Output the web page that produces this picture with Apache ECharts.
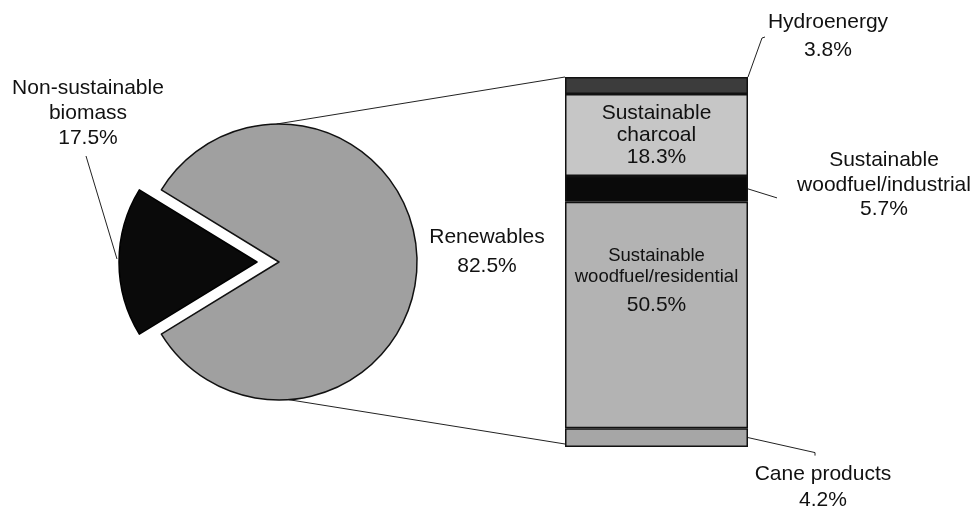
<!DOCTYPE html>
<html>
<head>
<meta charset="utf-8">
<script src="https://cdn.jsdelivr.net/npm/echarts@6/dist/echarts.min.js"></script>
<style>
html,body{margin:0;padding:0;background:#fff;}
#c{width:977px;height:511px;}
</style>
</head>
<body>
<div id="c"></div>
<script>
// ---- data ----
const pieNames = ['Non-sustainable biomass', 'Renewables'];
const pieValues = [17.5, 82.5];
const pieLabelLines = [['Non-sustainable', 'biomass', '17.5%'], ['Renewables', '82.5%']];

const barNames = ['Hydroenergy', 'Sustainable charcoal', 'Sustainable woodfuel/industrial', 'Sustainable woodfuel/residential', 'Cane products'];
const barValues = [3.8, 18.3, 5.7, 50.5, 4.2];
const barLabelLines = [
  ['Hydroenergy', '3.8%'],
  ['Sustainable', 'charcoal', '18.3%'],
  ['Sustainable', 'woodfuel/industrial', '5.7%'],
  ['Sustainable', 'woodfuel/residential', '50.5%'],
  ['Cane products', '4.2%']
];

// ---- styling / layout ----
const FONT = "'Liberation Sans', Arial, Helvetica, sans-serif";
const barColors = ['#3c3c3c', '#c6c6c6', '#0a0a0a', '#b3b3b3', '#a6a6a6'];
const pieColors = ['#0a0a0a', '#a0a0a0'];
const PIE = { cx: 279, cy: 262, r: 138, offset: 22 };
const GRID = { left: 565, width: 183, top: 77, height: 370 };
const total = barValues.reduce((a, b) => a + b, 0);

const chart = echarts.init(document.getElementById('c'), null, { renderer: 'canvas' });

const startAngle = 180 + pieValues[0] / (pieValues[0] + pieValues[1]) * 360 / 2;

const barSeries = barNames.map((name, i) => {
  const s = {
    name: name,
    type: 'bar',
    stack: 'total',
    barCategoryGap: '0%',
    data: [barValues[i]],
    itemStyle: { color: barColors[i], borderColor: '#111', borderWidth: 1.5 },
    emphasis: { disabled: true },
    label: { show: false }
  };
  if (i === 1) {
    s.label = {
      show: true, position: 'inside', fontFamily: FONT, fontSize: 21, lineHeight: 22,
      color: '#111', formatter: barLabelLines[i].join('\n')
    };
  }
  if (i === 3) {
    s.label = {
      show: true, position: ['50%', 44], align: 'center', verticalAlign: 'top',
      fontFamily: FONT, color: '#111',
      formatter: '{a|' + barLabelLines[i][0] + '}\n{a|' + barLabelLines[i][1] + '}\n{b|' + barLabelLines[i][2] + '}',
      rich: {
        a: { fontFamily: FONT, fontSize: 18.5, lineHeight: 21, color: '#111' },
        b: { fontFamily: FONT, fontSize: 21, lineHeight: 36, color: '#111' }
      }
    };
  }
  return s;
});

chart.setOption({
  animation: false,
  backgroundColor: '#fff',
  grid: { left: GRID.left, width: GRID.width, top: GRID.top, height: GRID.height, containLabel: false },
  xAxis: { type: 'category', data: [''], show: false },
  yAxis: { type: 'value', min: 0, max: total, inverse: true, show: false },
  series: [
    {
      type: 'pie',
      center: [PIE.cx, PIE.cy],
      radius: PIE.r,
      startAngle: startAngle,
      clockwise: true,
      selectedMode: 'single',
      selectedOffset: PIE.offset,
      label: { show: false },
      labelLine: { show: false },
      emphasis: { disabled: true },
      data: pieNames.map((n, i) => ({
        name: n, value: pieValues[i], selected: i === 0,
        itemStyle: { color: pieColors[i], borderColor: i === 0 ? '#000' : '#111', borderWidth: 1.5 }
      }))
    }
  ].concat(barSeries)
});

// ---- annotations computed from the axes ----
function yOf(v) { return chart.convertToPixel({ yAxisIndex: 0 }, v); }
const right = GRID.left + GRID.width;
const cum = [0];
barValues.forEach((v, i) => cum.push(cum[i] + v));

const lineStyle = { stroke: '#222', lineWidth: 1 };
const textStyle = (txt, x, y, lh) => ({
  type: 'text', x: x, y: y,
  style: { text: txt, fontFamily: FONT, fontSize: 21, lineHeight: lh, fill: '#111', align: 'center', verticalAlign: 'middle' }
});

const d2r = Math.PI / 180;
const topPt = [PIE.cx + PIE.r * Math.cos(91 * d2r), PIE.cy - PIE.r * Math.sin(91 * d2r)];
const botPt = [PIE.cx + PIE.r * Math.cos(274 * d2r), PIE.cy - PIE.r * Math.sin(274 * d2r)];

const yHydro = yOf(cum[0]);
const yInd = yOf((cum[2] + cum[3]) / 2);
const yCane = yOf((cum[4] + cum[5]) / 2);

const graphics = [
  // pie to bar connectors
  { type: 'polyline', shape: { points: [topPt, [GRID.left, yOf(0)]] }, style: lineStyle },
  { type: 'polyline', shape: { points: [botPt, [GRID.left, yOf(total) - 3]] }, style: lineStyle },
  // bar leader lines
  { type: 'polyline', shape: { points: [[right, yHydro], [right + 14, yHydro - 39], [right + 17, yHydro - 40]] }, style: lineStyle },
  { type: 'polyline', shape: { points: [[right, yInd], [right + 29, yInd + 9]] }, style: lineStyle },
  { type: 'polyline', shape: { points: [[right, yCane], [right + 67, yCane + 15], [right + 67, yCane + 18]] }, style: lineStyle },
  // pie leader
  { type: 'polyline', shape: { points: [[86, 156], [PIE.cx - PIE.offset - PIE.r - 2, PIE.cy - 3]] }, style: lineStyle },
  // texts
  textStyle(barLabelLines[0].join('\n'), right + 80, yHydro - 41, 28),
  textStyle(barLabelLines[2].join('\n'), right + 136, yInd - 4, 24.5),
  textStyle(barLabelLines[4].join('\n'), right + 75, yCane + 50, 26),
  textStyle(pieLabelLines[0].join('\n'), 88, 113, 25),
  textStyle(pieLabelLines[1].join('\n'), 487, 252, 29)
];
chart.setOption({ graphic: graphics });
</script>
</body>
</html>
